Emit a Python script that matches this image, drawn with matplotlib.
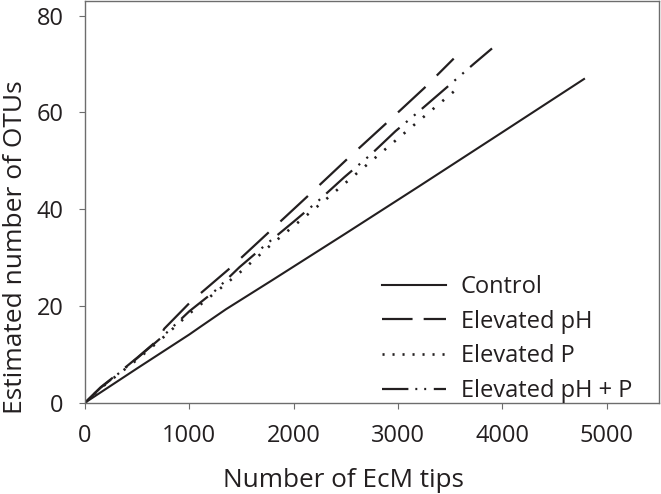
import matplotlib
matplotlib.use("Agg")
import matplotlib.pyplot as plt
from matplotlib.lines import Line2D

plt.rcParams['font.family'] = ['Open Sans', 'DejaVu Sans']
plt.rcParams['lines.scale_dashes'] = False

# --- Dados ---
ctrl_x = [0, 500, 1000, 1100, 1350, 1800, 2500, 3200, 4000, 4790]
ctrl_y = [0, 7.1, 14.1, 15.6, 19.3, 25.4, 35.0, 44.7, 55.9, 67.0]

ph_x = [0, 150, 280, 500, 700, 760, 1010, 1400, 1780, 2150, 2525, 2905, 3250, 3533]
ph_y = [0, 3.2, 5.4, 9.3, 13.0, 15.3, 20.8, 28.0, 35.6, 43.0, 50.6, 58.1, 65.0, 71.1]

p_x = [0, 150, 280, 500, 750, 1000, 1250, 1500, 1770, 2050, 2330, 2610, 2890, 3170, 3540]
p_y = [0, 3.0, 5.2, 8.9, 13.5, 18.4, 22.8, 27.2, 32.4, 37.4, 42.4, 47.5, 52.6, 57.7, 64.4]

php_x = [0, 150, 280, 500, 750, 1000, 1240, 1480, 1735, 2005, 2240, 2485, 2740, 2975, 3200, 3485, 3725, 3900]
php_y = [0, 3.1, 5.3, 9.2, 13.8, 18.9, 23.0, 28.0, 32.7, 37.5, 41.8, 46.6, 51.3, 56.1, 60.2, 65.5, 70.0, 73.2]

rotulos = ["Control", "Elevated pH", "Elevated P", "Elevated pH + P"]

cor = "#231f20"
cinza = "#6d6d6d"

fig = plt.figure(figsize=(6.61, 4.94), dpi=100)
ax = fig.add_axes([85 / 661, 1 - 402.7 / 494, 574 / 661, 401.7 / 494])

ax.plot(ctrl_x, ctrl_y, color=cor, lw=1.5, solid_capstyle="butt")
ax.plot(ph_x, ph_y, color=cor, lw=1.6, linestyle=(0, (27, 11.5)))
ax.plot(p_x, p_y, color=cor, lw=1.9, linestyle=(0, (1.6, 7.5)))
ax.plot(php_x, php_y, color=cor, lw=1.6, linestyle=(0, (25, 6, 1.5, 6, 1.5, 6)))

ax.set_xlim(0, 5500)
ax.set_ylim(0, 83)
ax.set_xticks([0, 1000, 2000, 3000, 4000, 5000])
ax.set_yticks([0, 20, 40, 60, 80])

for s in ax.spines.values():
    s.set_color(cinza)
    s.set_linewidth(1.0)
ax.tick_params(direction="out", length=4.5, width=0.8, color=cinza,
               labelsize=17, labelcolor=cor, pad=11)

ax.set_xlabel("Number of EcM tips", fontsize=18.8, color=cor)
ax.set_ylabel("Estimated number of OTUs", fontsize=19.0, color=cor)
ax.xaxis.set_label_coords((343 - 85) / 574, -0.163)
ax.yaxis.set_label_coords(-0.0986, 0.388)

# legenda com amostras proprias
alcas = [
    Line2D([], [], color=cor, lw=1.5),
    Line2D([], [], color=cor, lw=1.6, linestyle=(0, (22, 8))),
    Line2D([], [], color=cor, lw=1.9, linestyle=(0, (1.5, 5.7))),
    Line2D([], [], color=cor, lw=1.6, linestyle=(0, (19, 5, 1.4, 5, 1.4, 5.5))),
]
leg = ax.legend(alcas, rotulos, loc="upper left", frameon=False, fontsize=17,
                handlelength=2.71, handletextpad=0.64, labelspacing=0.45,
                borderpad=0, borderaxespad=0,
                bbox_to_anchor=((381.7 - 85) / 574, (402.7 - 275) / 401.7))
for t in leg.get_texts():
    t.set_color(cor)

fig.savefig("out.png", dpi=100)
